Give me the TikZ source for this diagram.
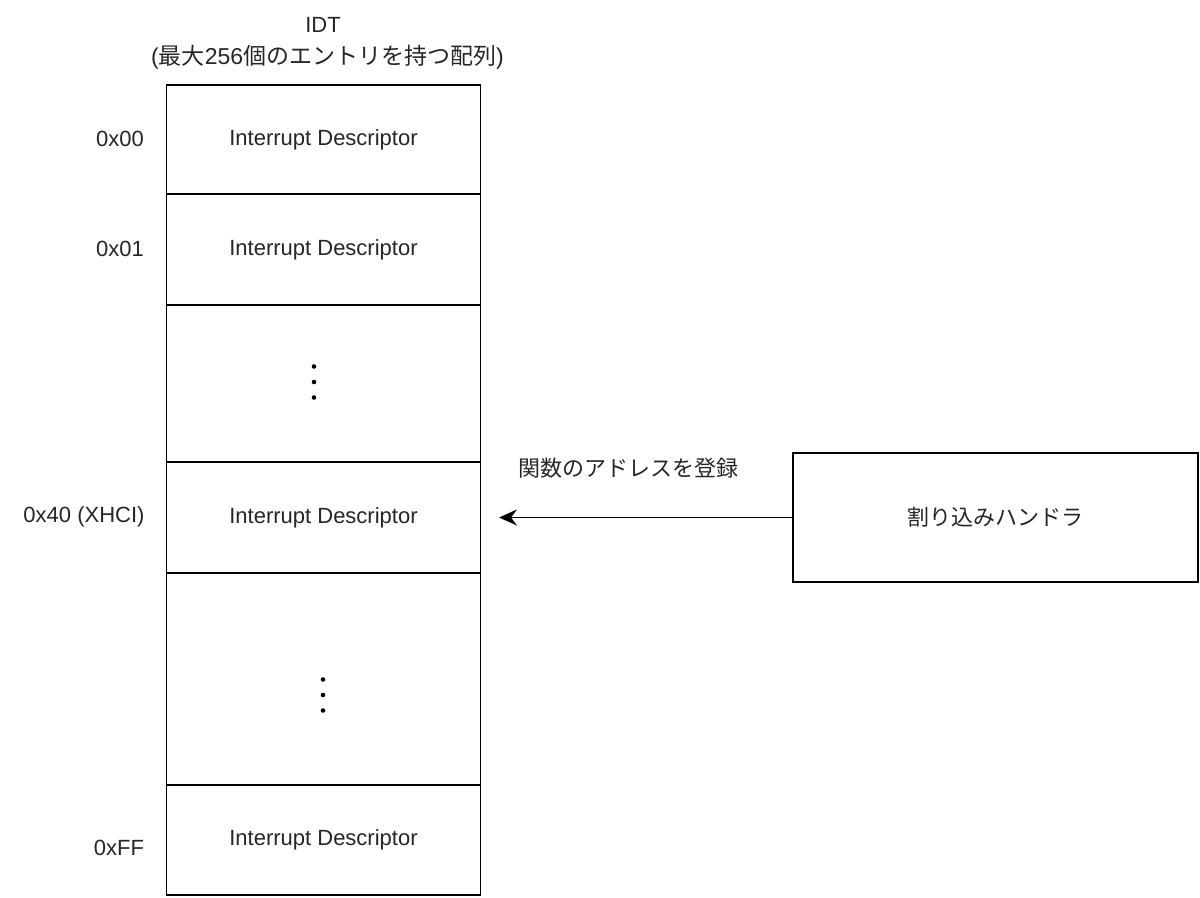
\documentclass[tikz,border=0pt]{standalone}
\usepackage{fontspec}
\setmainfont{Liberation Sans}
\newfontfamily\cjk{Noto Sans CJK JP}
\usetikzlibrary{arrows.meta}
\begin{document}
\begin{tikzpicture}[x=0.5pt,y=-0.5pt,
  every node/.style={font=\fontsize{11}{13.2}\selectfont, text=black!85},
  cell/.style={draw=black, line width=0.9pt, inner sep=0pt, outer sep=0pt, minimum width=157pt, fill=white},
  lbl/.style={inner sep=0pt},
  dot/.style={fill=black}]
\useasboundingbox (0,0) rectangle (1200,898);
% table cells
\node[cell, minimum height=54.5pt] (r0) at (323.5,139.5) {Interrupt Descriptor};
\node[cell, minimum height=55.5pt] (r1) at (323.5,249.5) {Interrupt Descriptor};
\node[cell, minimum height=78.5pt] (r2) at (323.5,383.5) {};
\node[cell, minimum height=55.5pt] (r3) at (323.5,517.5) {Interrupt Descriptor};
\node[cell, minimum height=106pt] (r4) at (323.5,679) {};
\node[cell, minimum height=55pt] (r5) at (323.5,840) {Interrupt Descriptor};
% ellipsis dots
\foreach \yy in {366.5,382,397.5} \fill[dot] (314,\yy) circle (1.15pt);
\foreach \yy in {679.5,695,710.5} \fill[dot] (323,\yy) circle (1.15pt);
% title
\node[lbl] (title) at (323,25) {IDT};
\node[lbl, font=\fontsize{11.5}{13.8}\selectfont] (sub) at (327.5,57) {(\cjk 最大\normalfont 256\cjk 個のエントリを持つ配列\normalfont)};
% index labels
\node[lbl] (l0) at (120,139) {0x00};
\node[lbl] (l1) at (120,249) {0x01};
\node[lbl] (l40) at (84,517) {0x40 (XHCI)};
\node[lbl] (lff) at (119,848) {0xFF};
% handler
\node[cell, minimum width=202.5pt, minimum height=64.5pt] (h) at (995.5,517.5) {\cjk 割り込みハンドラ};
\coordinate (tip) at (499,517.5);
\draw[line width=0.9pt, -{Stealth[length=9pt,width=8pt,inset=3pt]}] (h.west) -- (tip);
\node[lbl] (reg) at (628,468) {\cjk 関数のアドレスを登録};
\end{tikzpicture}
\end{document}
